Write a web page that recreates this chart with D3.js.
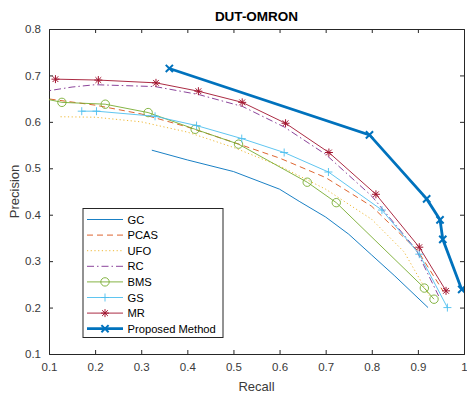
<!DOCTYPE html>
<html><head><meta charset="utf-8">
<script src="https://cdn.jsdelivr.net/npm/d3@7"></script>
<style>
body{margin:0;background:#fff;}
svg{display:block;font-family:"Liberation Sans",Arial,Helvetica,sans-serif;}
</style></head>
<body><svg id="c" width="467" height="397"></svg>
<script>
const title = "DUT-OMRON";
const xLabel = "Recall";
const yLabel = "Precision";
const xTicks = [0.1,0.2,0.3,0.4,0.5,0.6,0.7,0.8,0.9,1];
const yTicks = [0.1,0.2,0.3,0.4,0.5,0.6,0.7,0.8];
const seriesNames = ["GC","PCAS","UFO","RC","BMS","GS","MR","Proposed Method"];

const gcData = [[0.323,0.539],[0.4,0.518],[0.5,0.493],[0.6,0.455],[0.644,0.428],[0.7,0.395],[0.75,0.358],[0.8,0.313],[0.85,0.268],[0.922,0.2]];
const pcasData = [[0.08,0.652],[0.2,0.636],[0.3,0.617],[0.4,0.589],[0.5,0.556],[0.6,0.522],[0.7,0.48],[0.8,0.418],[0.9,0.322],[0.955,0.235]];
const ufoData = [[0.125,0.611],[0.2,0.61],[0.3,0.6],[0.4,0.578],[0.5,0.545],[0.6,0.505],[0.7,0.455],[0.8,0.39],[0.87,0.32],[0.925,0.225]];
const rcData = [[0.08,0.664],[0.15,0.675],[0.2,0.68],[0.33,0.676],[0.424,0.659],[0.52,0.633],[0.61,0.589],[0.7,0.53],[0.8,0.44],[0.896,0.325],[0.945,0.225]];
const bmsData = [[0.128,0.642],[0.222,0.638],[0.315,0.62],[0.417,0.584],[0.511,0.552],[0.66,0.47],[0.723,0.426],[0.914,0.242],[0.935,0.218]];
const bmsLead = [[0.08,0.652],[0.128,0.642]];
const gsData = [[0.171,0.623],[0.203,0.623],[0.33,0.612],[0.42,0.592],[0.518,0.564],[0.61,0.534],[0.706,0.492],[0.822,0.41],[0.903,0.315],[0.964,0.2]];
const mrData = [[0.114,0.692],[0.207,0.69],[0.332,0.684],[0.424,0.666],[0.519,0.642],[0.613,0.597],[0.707,0.534],[0.809,0.444],[0.903,0.33],[0.961,0.236]];
const propData = [[0.361,0.715],[0.795,0.572],[0.919,0.434],[0.948,0.389],[0.954,0.347],[0.995,0.239],[1.01,0.237]];

const colors = {GC:"#0072BD",PCAS:"#D95319",UFO:"#EDB120",RC:"#7E2F8E",BMS:"#77AC30",GS:"#4DBEEE",MR:"#A2142F",P:"#0072BD"};

const svg = d3.select("#c");
const L=49,R=464,T=29,B=354;
const x = d3.scaleLinear().domain([0.1,1]).range([L,R]);
const y = d3.scaleLinear().domain([0.1,0.8]).range([B,T]);
const axisColor="#262626";

svg.append("defs").append("clipPath").attr("id","clip").append("rect")
  .attr("x",L).attr("y",T).attr("width",R-L).attr("height",B-T);

// title
svg.append("text").attr("x",(L+R)/2).attr("y",21).attr("text-anchor","middle")
  .attr("font-weight","bold").attr("font-size",13.5).attr("fill","#000").text(title);

// axes
const gx = svg.append("g").attr("transform",`translate(0,${B})`)
  .call(d3.axisBottom(x).tickValues(xTicks).tickSize(-4).tickPadding(9).tickFormat(d=>d===1?"1":d3.format(".1f")(d)));
const gxTop = svg.append("g").attr("transform",`translate(0,${T})`)
  .call(d3.axisTop(x).tickValues(xTicks).tickSize(-4).tickFormat(""));
const gy = svg.append("g").attr("transform",`translate(${L},0)`)
  .call(d3.axisLeft(y).tickValues(yTicks).tickSize(-4).tickPadding(8).tickFormat(d3.format(".1f")));
const gyR = svg.append("g").attr("transform",`translate(${R},0)`)
  .call(d3.axisRight(y).tickValues(yTicks).tickSize(-4).tickFormat(""));
[gx,gxTop,gy,gyR].forEach(g=>{
  g.select(".domain").attr("stroke",axisColor).attr("stroke-width",1);
  g.selectAll(".tick line").attr("stroke",axisColor);
  g.selectAll(".tick text").attr("fill","#3a3a3a").attr("font-size",11.5)
    .attr("font-family","Liberation Sans,Arial,sans-serif");
});
gx.selectAll(".tick").filter(d=>d===0.1||d===1).select("line").remove();
gxTop.selectAll(".tick").filter(d=>d===0.1||d===1).select("line").remove();
gy.selectAll(".tick").filter(d=>d===0.1||d===0.8).select("line").remove();
gyR.selectAll(".tick").filter(d=>d===0.1||d===0.8).select("line").remove();

svg.append("text").attr("x",(L+R)/2).attr("y",391).attr("text-anchor","middle")
  .attr("font-size",13).attr("fill","#3a3a3a").text(xLabel);
svg.append("text").attr("transform",`translate(19,${(T+B)/2}) rotate(-90)`).attr("text-anchor","middle")
  .attr("font-size",13).attr("fill","#3a3a3a").text(yLabel);

const line = d3.line().x(d=>x(d[0])).y(d=>y(d[1]));
const plot = svg.append("g").attr("clip-path","url(#clip)");

function drawLine(data,color,width,dash){
  plot.append("path").datum(data).attr("d",line).attr("fill","none")
    .attr("stroke",color).attr("stroke-width",width).attr("stroke-dasharray",dash||null);
}
function marker(g,type,cx,cy,color,sw){
  const s=4;
  if(type==="o"){
    g.append("circle").attr("cx",cx).attr("cy",cy).attr("r",4.2).attr("fill","none").attr("stroke",color).attr("stroke-width",0.9);
  } else if(type==="+"){
    g.append("path").attr("d",`M${cx-s},${cy}H${cx+s}M${cx},${cy-s}V${cy+s}`).attr("stroke",color).attr("stroke-width",0.9);
  } else if(type==="*"){
    const d=s*0.72;
    g.append("path").attr("d",`M${cx-s},${cy}H${cx+s}M${cx},${cy-s}V${cy+s}M${cx-d},${cy-d}L${cx+d},${cy+d}M${cx-d},${cy+d}L${cx+d},${cy-d}`).attr("stroke",color).attr("stroke-width",1);
  } else if(type==="x"){
    const d=3.6;
    g.append("path").attr("d",`M${cx-d},${cy-d}L${cx+d},${cy+d}M${cx-d},${cy+d}L${cx+d},${cy-d}`).attr("stroke",color).attr("stroke-width",sw||2);
  }
}
function drawMarkers(data,type,color,sw){
  data.forEach(d=>marker(plot,type,x(d[0]),y(d[1]),color,sw));
}

drawLine(gcData,colors.GC,0.9);
drawLine(pcasData,colors.PCAS,0.9,"6,4");
drawLine(ufoData,colors.UFO,0.9,"1.2,2.5");
drawLine(rcData,colors.RC,0.9,"7,3,1.5,3");
drawLine(bmsLead,colors.BMS,0.9);
drawLine(bmsData,colors.BMS,0.9);
drawMarkers(bmsData,"o",colors.BMS);
drawLine(gsData,colors.GS,0.9);
drawMarkers(gsData,"+",colors.GS);
drawLine(mrData,colors.MR,0.9);
drawMarkers(mrData,"*",colors.MR);
drawLine(propData,colors.P,2.8);
drawMarkers(propData.slice(0,6),"x",colors.P,2);

// legend
const lg = svg.append("g");
lg.append("rect").attr("x",83).attr("y",208.5).attr("width",140).attr("height",129)
  .attr("fill","#fff").attr("stroke",axisColor).attr("stroke-width",1);
const legendItems = [
  {name:seriesNames[0],c:colors.GC,w:0.9},
  {name:seriesNames[1],c:colors.PCAS,w:0.9,dash:"6,4"},
  {name:seriesNames[2],c:colors.UFO,w:0.9,dash:"1.2,2.5"},
  {name:seriesNames[3],c:colors.RC,w:0.9,dash:"7,3,1.5,3"},
  {name:seriesNames[4],c:colors.BMS,w:0.9,m:"o"},
  {name:seriesNames[5],c:colors.GS,w:0.9,m:"+"},
  {name:seriesNames[6],c:colors.MR,w:0.9,m:"*"},
  {name:seriesNames[7],c:colors.P,w:2.8,m:"x"}
];
legendItems.forEach((it,i)=>{
  const yy = 219.5 + i*15.6;
  lg.append("line").attr("x1",87).attr("x2",123).attr("y1",yy).attr("y2",yy)
    .attr("stroke",it.c).attr("stroke-width",it.w).attr("stroke-dasharray",it.dash||null);
  if(it.m) marker(lg,it.m,105,yy,it.c,2);
  lg.append("text").attr("x",127.5).attr("y",yy+4).attr("font-size",11.2).attr("fill","#000").text(it.name);
});
</script></body></html>
